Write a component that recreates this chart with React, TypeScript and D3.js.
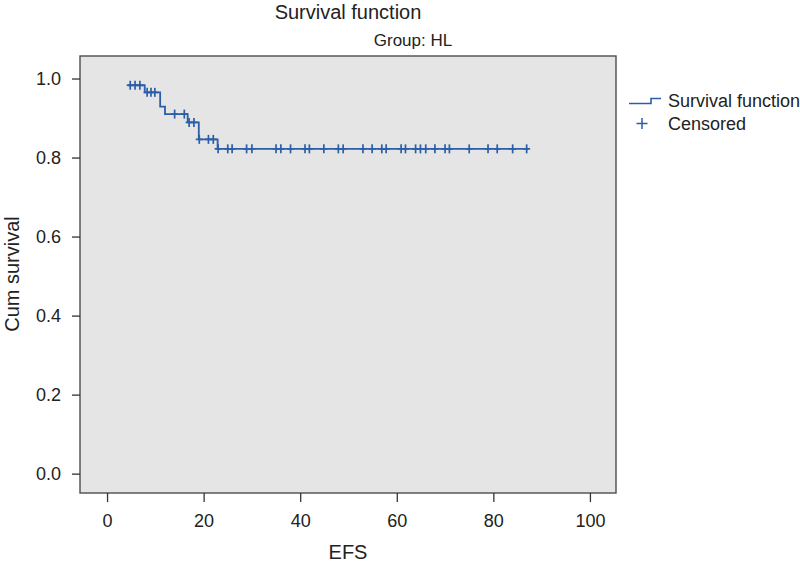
import React, { useEffect, useRef } from "react";
import * as d3 from "d3";

// step points of the Kaplan-Meier curve (time where each level starts)
const stepTimes = [4.3, 7.8, 11.0, 12.0, 16.7, 19.0, 22.9];
const stepSurvival = [0.983, 0.965, 0.929, 0.91, 0.889, 0.846, 0.822];
const lastTime = 87.2;

// censored observations
const censoredTimes = [
  4.8, 5.8, 6.8, 8.3, 9.1, 9.9, 14.0, 16.0, 17.0, 18.0, 19.1, 21.0, 22.0,
  23.0, 25.0, 25.9, 28.9, 30.0, 35.0, 36.0, 38.0, 41.0, 41.9, 44.9, 47.9,
  48.9, 53.0, 54.9, 56.9, 57.8, 60.9, 61.8, 63.9, 64.9, 66.0, 67.9, 70.0,
  70.9, 75.0, 78.9, 80.8, 84.0, 86.9,
];

const xTicks = [0, 20, 40, 60, 80, 100];
const yTicks = [0, 0.2, 0.4, 0.6, 0.8, 1.0];

const BLUE = "#2a5fa8";
const FONT = "'Liberation Sans', Arial, Helvetica, sans-serif";

const App = () => {
  const ref = useRef<SVGSVGElement | null>(null);

  useEffect(() => {
    if (!ref.current) return;
    const svg = d3.select(ref.current);
    svg.selectAll("*").remove();

    const box = { left: 80, right: 616, top: 56, bottom: 493 };

    const x = d3.scaleLinear().domain([-5.6, 105.4]).range([box.left, box.right]);
    const y = d3.scaleLinear().domain([-0.049, 1.057]).range([box.bottom, box.top]);

    // plot panel
    svg
      .append("rect")
      .attr("x", box.left)
      .attr("y", box.top)
      .attr("width", box.right - box.left)
      .attr("height", box.bottom - box.top)
      .attr("fill", "#e5e5e5")
      .attr("stroke", "#4d4d4d")
      .attr("stroke-width", 1.4);

    // axes
    const xAxis = svg
      .append("g")
      .attr("transform", `translate(0,${box.bottom})`)
      .call(d3.axisBottom(x).tickValues(xTicks).tickSize(9).tickPadding(12).tickFormat(d3.format("d")));
    xAxis.select(".domain").remove();

    const yAxis = svg
      .append("g")
      .attr("transform", `translate(${box.left},0)`)
      .call(d3.axisLeft(y).tickValues(yTicks).tickSize(8).tickPadding(11).tickFormat(d3.format(".1f")));
    yAxis.select(".domain").remove();

    svg
      .selectAll(".tick line")
      .attr("stroke", "#333")
      .attr("stroke-width", 1.3);
    svg
      .selectAll(".tick text")
      .attr("fill", "#222")
      .style("font-family", FONT)
      .style("font-size", "18px");

    // survival step line
    const pts: [number, number][] = stepTimes.map((t, i) => [t, stepSurvival[i]]);
    pts.push([lastTime, stepSurvival[stepSurvival.length - 1]]);
    const line = d3
      .line<[number, number]>()
      .x((d) => x(d[0]))
      .y((d) => y(d[1]))
      .curve(d3.curveStepAfter);

    svg
      .append("path")
      .attr("fill", "none")
      .attr("stroke", BLUE)
      .attr("stroke-width", 1.8)
      .attr("d", line(pts));

    // censored marks sit on the curve level at their time
    const levelAt = (t: number) =>
      stepSurvival[Math.max(0, d3.bisectRight(stepTimes, t) - 1)];

    const marks = svg
      .append("g")
      .selectAll("g")
      .data(censoredTimes)
      .enter()
      .append("g")
      .attr("transform", (d) => `translate(${x(d)},${y(levelAt(d))})`);
    marks
      .append("line")
      .attr("y1", -4.5)
      .attr("y2", 4.5)
      .attr("stroke", BLUE)
      .attr("stroke-width", 1.7);
    marks
      .append("line")
      .attr("x1", -3.5)
      .attr("x2", 3.5)
      .attr("stroke", BLUE)
      .attr("stroke-width", 1.7);

    // titles
    svg
      .append("text")
      .attr("x", (box.left + box.right) / 2)
      .attr("y", 19)
      .attr("text-anchor", "middle")
      .style("font-family", FONT)
      .style("font-size", "20px")
      .attr("fill", "#222")
      .text("Survival function");

    svg
      .append("text")
      .attr("x", 413)
      .attr("y", 46)
      .attr("text-anchor", "middle")
      .style("font-family", FONT)
      .style("font-size", "17px")
      .attr("fill", "#222")
      .text("Group: HL");

    svg
      .append("text")
      .attr("x", (box.left + box.right) / 2)
      .attr("y", 559)
      .attr("text-anchor", "middle")
      .style("font-family", FONT)
      .style("font-size", "20px")
      .attr("fill", "#222")
      .text("EFS");

    svg
      .append("text")
      .attr("transform", `translate(19,274) rotate(-90)`)
      .attr("text-anchor", "middle")
      .style("font-family", FONT)
      .style("font-size", "20px")
      .attr("fill", "#222")
      .text("Cum survival");

    // legend
    svg
      .append("path")
      .attr("d", "M629,103.5H651V98.5H661")
      .attr("fill", "none")
      .attr("stroke", BLUE)
      .attr("stroke-width", 1.6);
    svg
      .append("path")
      .attr("d", "M636.5,123.5H647.5M642,118V129")
      .attr("fill", "none")
      .attr("stroke", BLUE)
      .attr("stroke-width", 1.5);

    svg
      .append("text")
      .attr("x", 668)
      .attr("y", 107)
      .style("font-family", FONT)
      .style("font-size", "18px")
      .attr("fill", "#222")
      .text("Survival function");
    svg
      .append("text")
      .attr("x", 668)
      .attr("y", 130)
      .style("font-family", FONT)
      .style("font-size", "18px")
      .attr("fill", "#222")
      .text("Censored");
  }, []);

  return (
    <svg
      ref={ref}
      width={800}
      height={563}
      style={{ position: "absolute", left: 0, top: 0, background: "#fff" }}
    />
  );
};

export default App;
